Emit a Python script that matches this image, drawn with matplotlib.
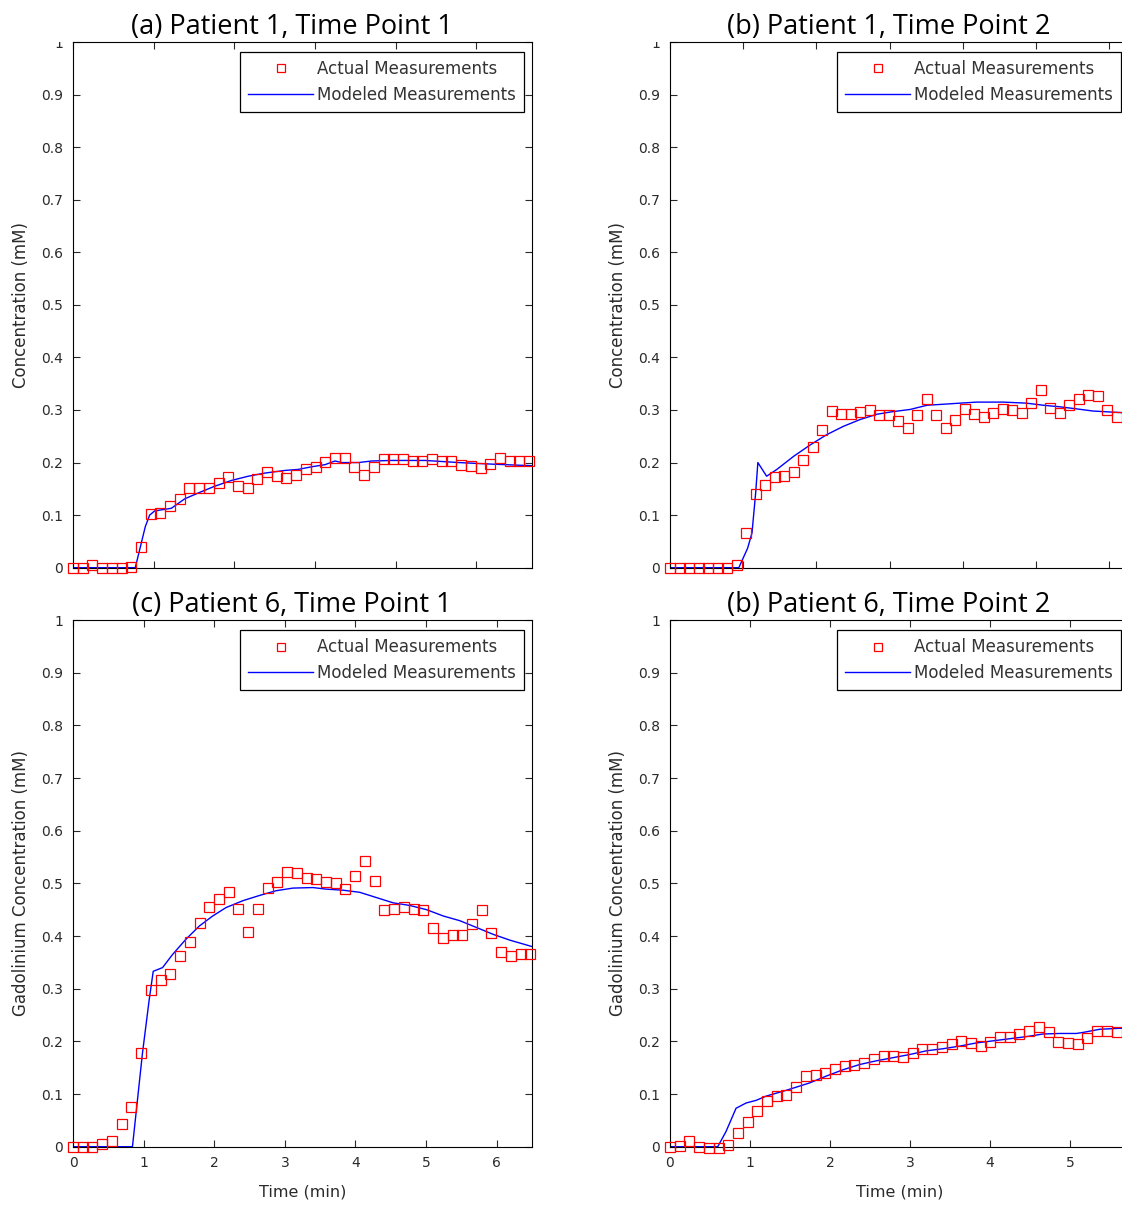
import matplotlib
matplotlib.use("Agg")
import matplotlib.pyplot as plt
from matplotlib.patches import Rectangle
import numpy as np

# panel titles and axis labels
titles = ["(a) Patient 1, Time Point 1", "(b) Patient 1, Time Point 2",
          "(c) Patient 6, Time Point 1", "(b) Patient 6, Time Point 2"]
ylabels = ["Concentration (mM)", "Concentration (mM)",
           "Gadolinium Concentration (mM)", "Gadolinium Concentration (mM)"]
xlabel = "Time (min)"
legend_labels = ["Actual Measurements", "Modeled Measurements"]

# sampling step (min) of the measurements and x range of each panel
dt = [0.1203, 0.1298, 0.1378, 0.1214]
xmax = [5.69, 6.27, 6.5, 5.74]

# measured concentrations (mM)
actual_a = [0.0, 0.0, 0.006, 0.0, 0.0, 0.0, 0.002, 0.040, 0.102, 0.104,
            0.117, 0.130, 0.152, 0.152, 0.152, 0.161, 0.173, 0.156, 0.152, 0.168,
            0.182, 0.174, 0.170, 0.176, 0.187, 0.192, 0.201, 0.209, 0.209, 0.191,
            0.177, 0.192, 0.206, 0.206, 0.206, 0.203, 0.203, 0.206, 0.203, 0.203,
            0.196, 0.193, 0.190, 0.198, 0.208, 0.203, 0.203, 0.203]
actual_b = [0.0, 0.0, 0.0, 0.0, 0.0, 0.0, 0.0, 0.005, 0.066, 0.140,
            0.158, 0.173, 0.174, 0.182, 0.204, 0.229, 0.261, 0.299, 0.293, 0.293,
            0.297, 0.300, 0.290, 0.290, 0.279, 0.266, 0.290, 0.320, 0.290, 0.266,
            0.281, 0.301, 0.293, 0.287, 0.295, 0.301, 0.300, 0.294, 0.314, 0.338,
            0.304, 0.294, 0.309, 0.320, 0.328, 0.327, 0.300, 0.287]
actual_c = [0.0, 0.0, 0.0, 0.006, 0.011, 0.043, 0.076, 0.178, 0.297, 0.317,
            0.328, 0.362, 0.389, 0.425, 0.456, 0.470, 0.484, 0.452, 0.408, 0.452,
            0.491, 0.503, 0.521, 0.519, 0.511, 0.508, 0.503, 0.500, 0.490, 0.514,
            0.543, 0.505, 0.450, 0.452, 0.455, 0.452, 0.450, 0.416, 0.396, 0.401,
            0.401, 0.422, 0.450, 0.405, 0.370, 0.363, 0.366, 0.366]
actual_d = [0.0, 0.002, 0.011, 0.0, -0.003, -0.003, 0.004, 0.026, 0.046, 0.067,
            0.086, 0.096, 0.098, 0.114, 0.135, 0.137, 0.140, 0.148, 0.153, 0.156,
            0.158, 0.166, 0.172, 0.172, 0.171, 0.177, 0.185, 0.185, 0.190, 0.195,
            0.200, 0.197, 0.191, 0.199, 0.209, 0.209, 0.214, 0.219, 0.227, 0.217,
            0.198, 0.196, 0.195, 0.207, 0.220, 0.220, 0.217]

# modeled curves (time in min, concentration in mM)
model_t_a = [0, 0.772, 0.826, 0.896, 0.95, 1.012, 1.219, 1.385, 1.551, 1.757,
             1.965, 2.172, 2.379, 2.627, 2.793, 2.959, 3.124, 3.248, 3.331, 3.538,
             3.704, 3.952, 4.366, 4.78, 5.194, 5.69]
model_y_a = [0, 0, 0.034, 0.078, 0.100, 0.108, 0.113, 0.131, 0.142, 0.155,
             0.166, 0.174, 0.180, 0.185, 0.187, 0.192, 0.196, 0.203, 0.200, 0.200,
             0.203, 0.204, 0.204, 0.200, 0.197, 0.194]
model_t_b = [0, 0.94, 1.06, 1.12, 1.17, 1.20, 1.32, 1.46, 1.69, 1.92,
             2.14, 2.37, 2.60, 2.83, 3.05, 3.28, 3.51, 3.74, 3.96, 4.19,
             4.55, 4.87, 5.10, 5.33, 5.56, 5.78, 6.17, 6.27]
model_y_b = [0, 0, 0.037, 0.066, 0.142, 0.200, 0.174, 0.187, 0.212, 0.234,
             0.253, 0.269, 0.282, 0.292, 0.297, 0.301, 0.309, 0.311, 0.313, 0.315,
             0.315, 0.313, 0.309, 0.306, 0.302, 0.298, 0.295, 0.294]
model_t_c = [0, 0.842, 0.984, 1.079, 1.136, 1.268, 1.41, 1.6, 1.789, 1.978,
             2.167, 2.404, 2.641, 2.877, 3.114, 3.398, 3.587, 3.824, 4.06, 4.297,
             4.534, 4.77, 5.007, 5.244, 5.48, 5.717, 5.954, 6.19, 6.5]
model_y_c = [0, 0, 0.178, 0.279, 0.333, 0.340, 0.365, 0.394, 0.419, 0.438,
             0.454, 0.467, 0.477, 0.486, 0.491, 0.492, 0.489, 0.487, 0.483, 0.473,
             0.463, 0.458, 0.450, 0.438, 0.429, 0.416, 0.403, 0.392, 0.380]
model_t_d = [0, 0.597, 0.701, 0.826, 0.952, 1.077, 1.202, 1.452, 1.745, 1.953,
             2.162, 2.371, 2.579, 2.788, 2.997, 3.205, 3.414, 3.623, 3.831, 4.04,
             4.249, 4.457, 4.666, 4.875, 5.083, 5.167, 5.376, 5.651, 5.74]
model_y_d = [0, 0, 0.029, 0.073, 0.083, 0.088, 0.096, 0.107, 0.121, 0.134,
             0.146, 0.156, 0.163, 0.169, 0.175, 0.182, 0.186, 0.191, 0.197, 0.201,
             0.205, 0.209, 0.214, 0.215, 0.215, 0.217, 0.223, 0.225, 0.225]

actual = [actual_a, actual_b, actual_c, actual_d]
model_t = [model_t_a, model_t_b, model_t_c, model_t_d]
model_y = [model_y_a, model_y_b, model_y_c, model_y_d]

yticks = [0, 0.1, 0.2, 0.3, 0.4, 0.5, 0.6, 0.7, 0.8, 0.9, 1]
ytick_labels = ["0", "0.1", "0.2", "0.3", "0.4", "0.5", "0.6", "0.7", "0.8", "0.9", "1"]
xticks = [0, 1, 2, 3, 4, 5, 6]

W, H = 1122, 1205
fig = plt.figure(figsize=(W / 100, H / 100), dpi=100)
txt = "#2a2a2a"

# pixel boxes of the four axes: left, top, right, bottom  (right column runs past the edge)
boxes = [(73, 42, 532, 567.7), (670, 42, 1129, 567.7),
         (73, 620, 532, 1146.7), (670, 620, 1129, 1146.7)]

for i in range(4):
    l, t, r, b = boxes[i]
    ax = fig.add_axes([l / W, 1 - b / H, (r - l) / W, (b - t) / H])
    times = np.arange(len(actual[i])) * dt[i]
    ax.plot(times, actual[i], linestyle="none", marker="s", markersize=7.2,
            markerfacecolor="none", markeredgecolor="#ff0000", markeredgewidth=0.9,
            clip_on=False, label=legend_labels[0], zorder=3)
    ax.plot(model_t[i], model_y[i], color="#0000ff", linewidth=1.0,
            label=legend_labels[1], zorder=2)

    ax.set_xlim(0, xmax[i])
    ax.set_ylim(0, 1)
    ax.set_xticks(xticks[: int(xmax[i]) + 1])
    ax.set_yticks(yticks)
    ax.set_yticklabels(ytick_labels)
    ax.tick_params(direction="in", length=5, width=0.8, top=True, right=True,
                   labelsize=10, pad=7, colors=txt)
    if i < 2:
        ax.tick_params(labelbottom=False)
    else:
        ax.set_xlabel(xlabel, fontsize=11.5, labelpad=10, color=txt)
    for s in ax.spines.values():
        s.set_linewidth(0.8)
    ax.set_ylabel(ylabels[i], fontsize=12, labelpad=8, color=txt)
    ax.set_title(titles[i], fontsize=19.5, family="Open Sans", x=0.476, pad=6)

    leg = ax.legend(loc="upper right", bbox_to_anchor=(0.982, 0.981), borderaxespad=0,
                    prop={"size": 12}, frameon=True, fancybox=False, edgecolor="black",
                    framealpha=1, handlelength=3.9, handletextpad=0.2,
                    labelspacing=0.45, borderpad=0.5, numpoints=1, markerscale=0.75)
    leg.get_frame().set_linewidth(0.9)
    for tx in leg.get_texts():
        tx.set_color("#333333")

# top row images were cropped just above the axes, hiding the top of the "1" labels
for x0 in (30, 627):
    fig.patches.append(Rectangle((x0 / W, 1 - 41.5 / H), 41 / W, 12 / H,
                                 transform=fig.transFigure, facecolor="white",
                                 edgecolor="none", zorder=10))

fig.savefig("out.png", dpi=100)
